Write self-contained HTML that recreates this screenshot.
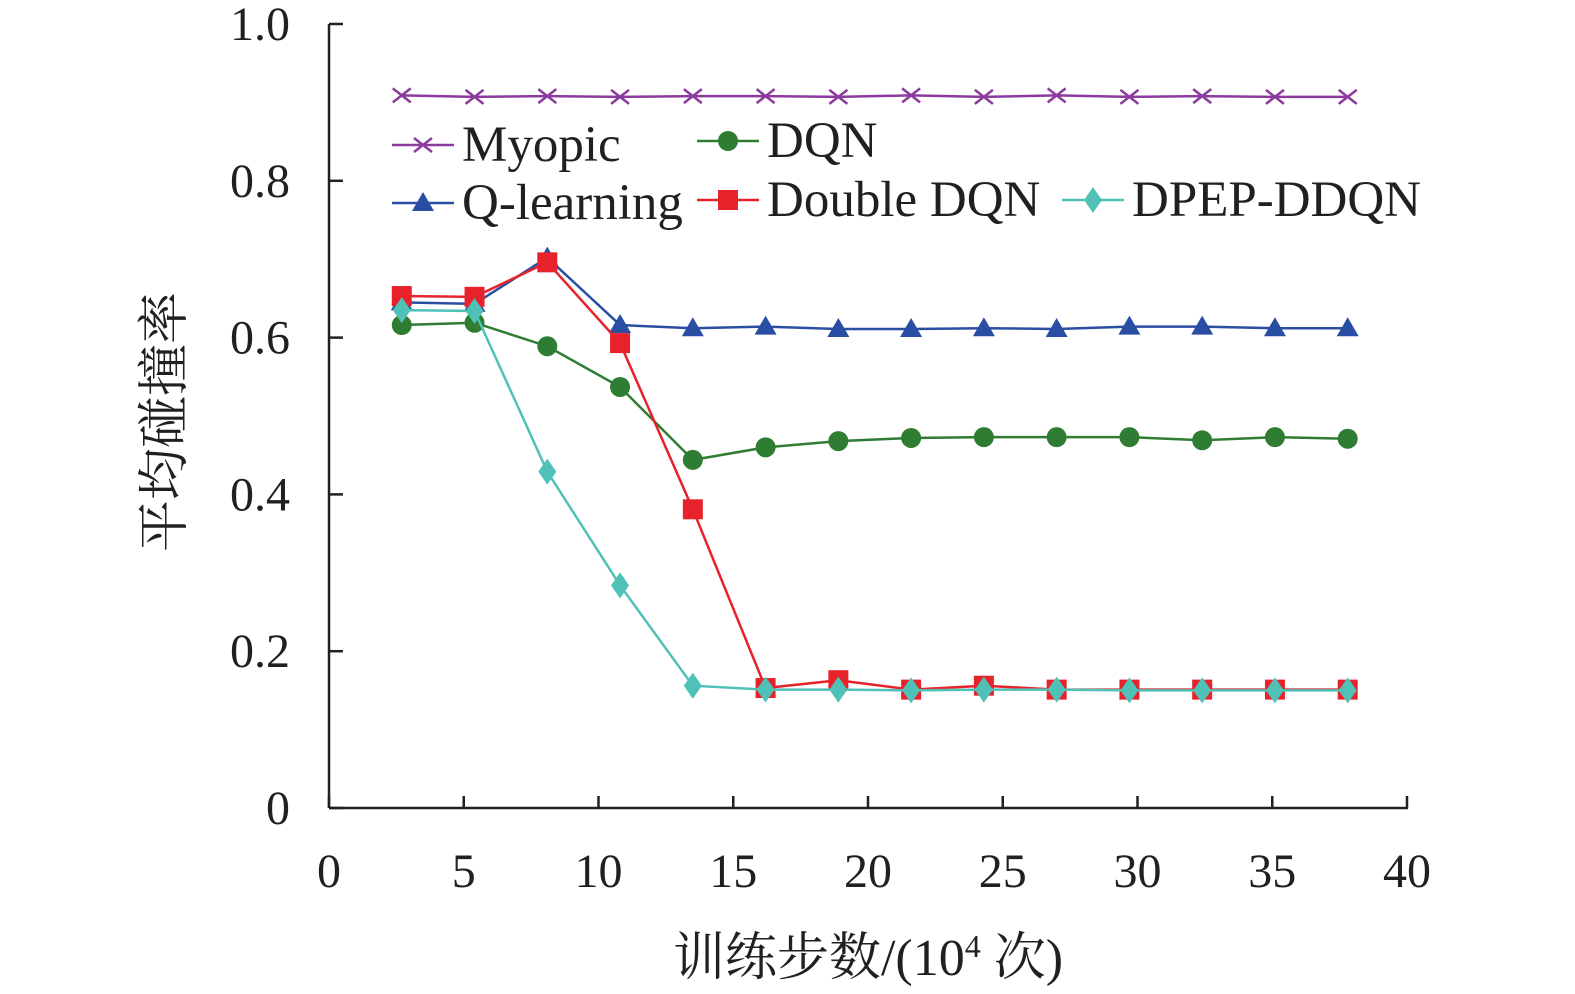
<!DOCTYPE html>
<html><head><meta charset="utf-8"><style>
html,body{margin:0;padding:0;background:#fff;overflow:hidden;width:1575px;height:994px;}
svg{display:block;}
svg text{font-family:"Liberation Serif","Noto Serif CJK SC",serif;fill:#231f20;}
</style></head><body>
<svg id="chart" width="1575" height="994" xmlns="http://www.w3.org/2000/svg"></svg>
<script>
const xValues=[2.7,5.4,8.1,10.8,13.5,16.2,18.9,21.6,24.3,27.0,29.7,32.4,35.1,37.8];
const myopic=[0.909,0.907,0.908,0.907,0.908,0.908,0.907,0.909,0.907,0.909,0.907,0.908,0.907,0.907];
const qlearning=[0.645,0.643,0.702,0.616,0.612,0.614,0.611,0.611,0.612,0.611,0.614,0.614,0.612,0.612];
const dqn=[0.616,0.619,0.589,0.537,0.444,0.460,0.468,0.472,0.473,0.473,0.473,0.469,0.473,0.471];
const doubleDqn=[0.653,0.652,0.696,0.593,0.381,0.153,0.163,0.151,0.156,0.151,0.151,0.151,0.151,0.151];
const dpep=[0.635,0.634,0.429,0.284,0.156,0.151,0.151,0.150,0.151,0.151,0.150,0.150,0.150,0.150];
const xTicks=[0,5,10,15,20,25,30,35,40];
const yTicks=[0,0.2,0.4,0.6,0.8,1.0];
const yTickLabels=["0","0.2","0.4","0.6","0.8","1.0"];
const NS="http://www.w3.org/2000/svg";
const svg=document.getElementById('chart');
const X=v=>329+v*(1407-329)/40;
const Y=v=>808-v*784;
function mk(t,a,p){const e=document.createElementNS(NS,t);for(const k in a)e.setAttribute(k,a[k]);(p||svg).appendChild(e);return e;}
let e;
e=mk('line',{x1:329,y1:808,x2:1408,y2:808,stroke:'#231f20','stroke-width':2.5});


e=mk('line',{x1:329,y1:24,x2:329,y2:808,stroke:'#231f20','stroke-width':2.5});


xTicks.forEach(t=>{
 mk('line',{x1:X(t),y1:808,x2:X(t),y2:796,stroke:'#231f20','stroke-width':2.5});
 e=mk('text',{x:X(t),y:887,'font-size':48,'text-anchor':'middle'});e.textContent=t;
 
 
});
yTicks.forEach((t,i)=>{
 mk('line',{x1:329,y1:Y(t),x2:343,y2:Y(t),stroke:'#231f20','stroke-width':2.5});
 e=mk('text',{x:290,y:Y(t)+16,'font-size':48,'text-anchor':'end'});e.textContent=yTickLabels[i];
 
 
});
e=mk('text',{x:868,y:975,'font-size':52,'text-anchor':'middle'});
e.innerHTML='训练步数/(10<tspan font-size="32" dy="-18">4</tspan><tspan dy="18"> 次)</tspan>';


e=mk('text',{x:0,y:0,'font-size':52,'text-anchor':'middle',transform:'translate(182,422) rotate(-90)'});
e.textContent='平均碰撞率';


function marker(type,x,y,c,g){
 if(type==='x'){mk('path',{d:`M${x-9} ${y-7}L${x+9} ${y+7}M${x-9} ${y+7}L${x+9} ${y-7}`,stroke:c,'stroke-width':2.5,fill:'none'},g);}
 else if(type==='tri'){mk('path',{d:`M${x} ${y-11}L${x+11} ${y+8}L${x-11} ${y+8}Z`,fill:c},g);}
 else if(type==='circ'){mk('circle',{cx:x,cy:y,r:10,fill:c},g);}
 else if(type==='sq'){mk('rect',{x:x-10,y:y-10,width:20,height:20,fill:c},g);}
 else if(type==='dia'){mk('path',{d:`M${x} ${y-13}L${x+9} ${y}L${x} ${y+13}L${x-9} ${y}Z`,fill:c},g);}
}
const series=[
 {name:'myopic',vals:myopic,c:'#8b3a9e',m:'x'},
 {name:'q-learning',vals:qlearning,c:'#2a4ea3',m:'tri'},
 {name:'dqn',vals:dqn,c:'#2f7d32',m:'circ'},
 {name:'double-dqn',vals:doubleDqn,c:'#e8222b',m:'sq'},
 {name:'dpep-ddqn',vals:dpep,c:'#4fc1b6',m:'dia'}
];
series.forEach(s=>{
 const g=mk('g',{});
 
 
 mk('polyline',{points:s.vals.map((v,i)=>X(xValues[i])+','+Y(v)).join(' '),fill:'none',stroke:s.c,'stroke-width':2.5},g);
 s.vals.forEach((v,i)=>marker(s.m,X(xValues[i]),Y(v),s.c,g));
});
const legend=[
 {label:'Myopic',x:392,y:145,s:0},
 {label:'DQN',x:697,y:141,s:2},
 {label:'Q-learning',x:392,y:203,s:1},
 {label:'Double DQN',x:697,y:200,s:3},
 {label:'DPEP-DDQN',x:1062,y:200,s:4}
];
legend.forEach(l=>{
 const s=series[l.s];
 const g=mk('g',{});
 
 
 mk('line',{x1:l.x,y1:l.y,x2:l.x+62,y2:l.y,stroke:s.c,'stroke-width':2.5},g);
 marker(s.m,l.x+31,l.y,s.c,g);
 const t=mk('text',{x:l.x+70,y:l.y+16,'font-size':51},g);t.textContent=l.label;
});
</script>
</body></html>
